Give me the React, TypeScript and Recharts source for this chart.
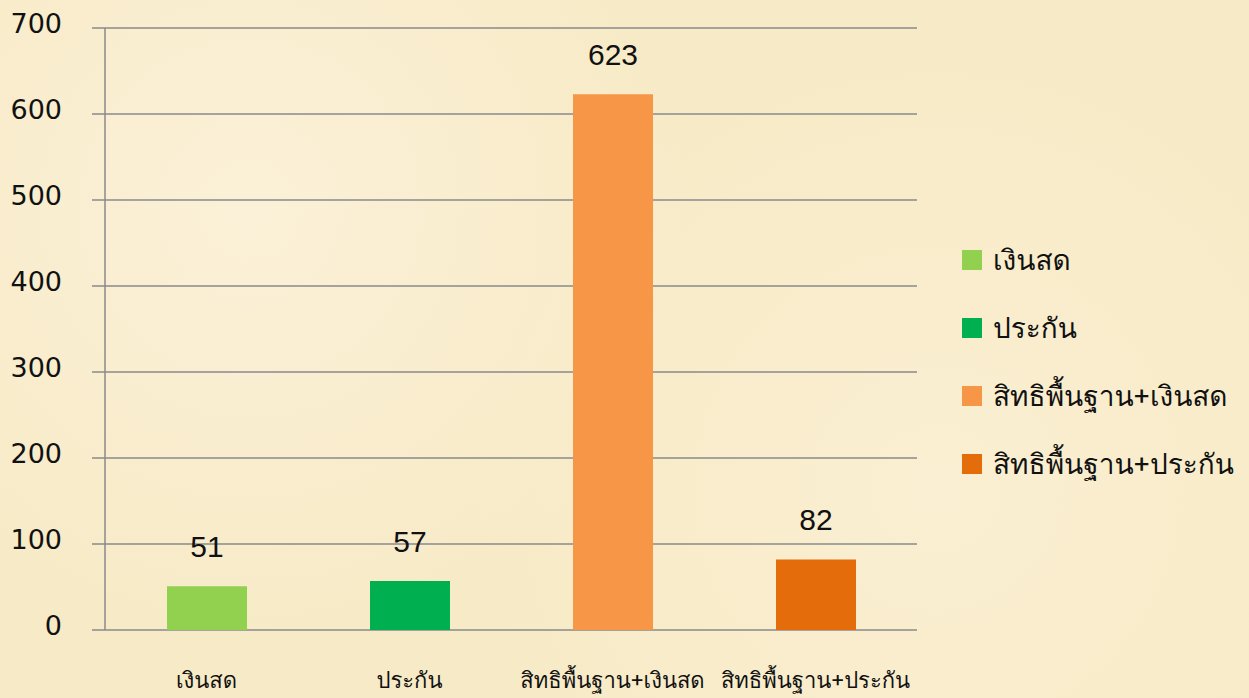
import React from "react";
import { BarChart, Bar, XAxis, YAxis, CartesianGrid, Cell, LabelList, Legend } from "recharts";

const categories = ["เงินสด", "ประกัน", "สิทธิพื้นฐาน+เงินสด", "สิทธิพื้นฐาน+ประกัน"];
const values = [51, 57, 623, 82];
const colors = ["#92D050", "#00B050", "#F79646", "#E46C0A"];
const yTicks = [0, 100, 200, 300, 400, 500, 600, 700];
const boundaryTicks = [0, 1, 2, 3, 4];

const data = categories.map((name, i) => ({ name, value: values[i] }));

const AXIS = "#8a8a8a";
const THAI =
  "'Loma', 'Garuda', 'Norasi', 'Kinnari', 'Noto Sans Thai Looped', 'Noto Serif Thai', 'Noto Sans Thai', 'Tahoma', 'Noto Sans', sans-serif";

const LegendContent = () => (
  <div style={{ fontFamily: THAI }}>
    {categories.map((c, i) => (
      <div key={c} style={{ display: "flex", alignItems: "center", height: 68 }}>
        <div style={{ width: 20, height: 20, flexShrink: 0, background: colors[i], marginRight: 11 }} />
        <span style={{ fontSize: 28, color: "#111", whiteSpace: "nowrap", lineHeight: "34px" }}>{c}</span>
      </div>
    ))}
  </div>
);

export default function App() {
  return (
    <div
      style={{
        position: "absolute",
        left: 0,
        top: 0,
        width: 1249,
        height: 698,
        overflow: "hidden",
        background:
          "radial-gradient(circle at 20% 30%, #fbf1d8 0%, rgba(251,241,216,0) 40%), radial-gradient(circle at 75% 70%, #faefd2 0%, rgba(250,239,210,0) 45%), #f7eac6",
      }}
    >
      <BarChart width={1249} height={698} data={data} margin={{ top: 28, right: 332, bottom: 0, left: 0 }}>
        <CartesianGrid vertical={false} stroke={AXIS} strokeWidth={1.5} />
        <XAxis
          xAxisId="num"
          type="number"
          domain={[0, 4]}
          ticks={boundaryTicks}
          height={0}
          tickSize={9}
          tickFormatter={() => ""}
          axisLine={{ stroke: AXIS, strokeWidth: 1.5 }}
          tickLine={{ stroke: AXIS, strokeWidth: 1.5 }}
        />
        <XAxis
          dataKey="name"
          height={68}
          axisLine={false}
          tickLine={false}
          tickSize={0}
          tickMargin={42}
          interval={0}
          tick={{ fill: "#111", fontSize: 22, fontFamily: THAI }}
        />
        <YAxis
          width={105}
          domain={[0, 700]}
          ticks={yTicks}
          tickSize={13}
          tickMargin={30}
          axisLine={{ stroke: AXIS, strokeWidth: 1.5 }}
          tickLine={{ stroke: AXIS, strokeWidth: 1.5 }}
          tick={{ fill: "#111", fontSize: 27, fontFamily: "Tahoma, 'DejaVu Sans', sans-serif", dy: -5 }}
        />
        <Legend
          verticalAlign="bottom"
          layout="horizontal"
          content={<LegendContent />}
          wrapperStyle={{ left: 962, top: 226, bottom: "auto", width: 287, height: 0 }}
        />
        <Bar dataKey="value" barSize={80} isAnimationActive={false}>
          {data.map((d, i) => (
            <Cell key={d.name} fill={colors[i]} />
          ))}
          <LabelList
            dataKey="value"
            position="top"
            offset={29}
            fill="#111"
            fontSize={30}
            fontFamily="'Liberation Sans Narrow', 'Arial Narrow', sans-serif"
          />
        </Bar>
      </BarChart>
    </div>
  );
}
